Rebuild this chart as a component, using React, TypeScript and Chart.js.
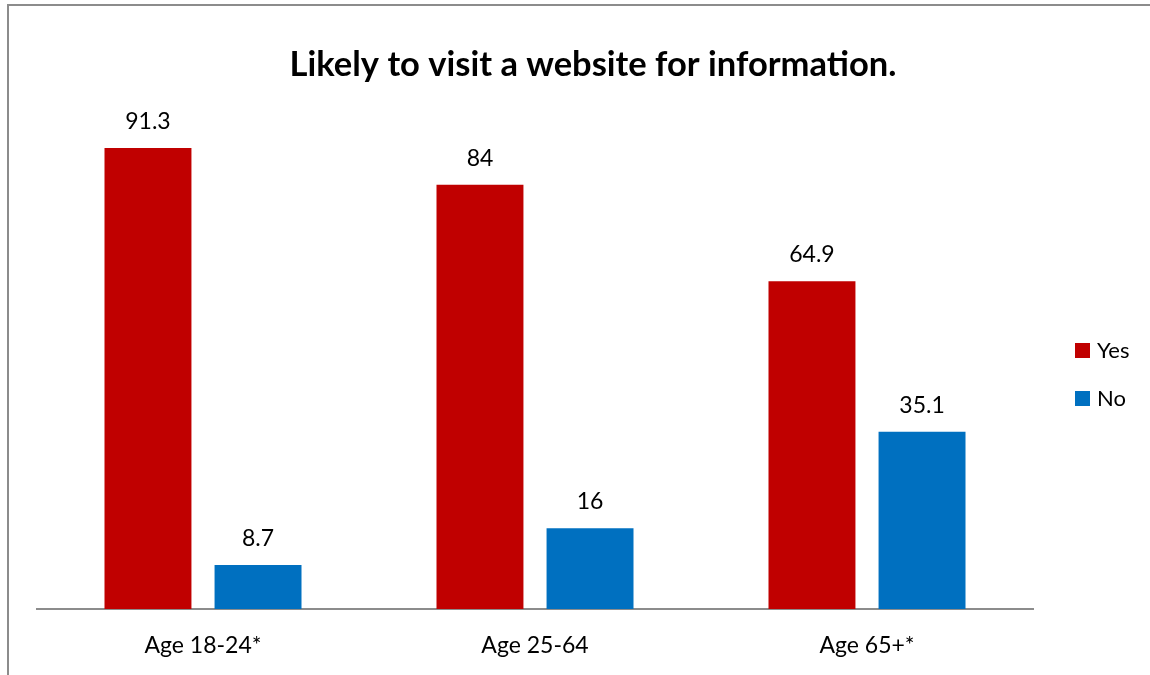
import React, { useEffect, useRef } from "react";
import { Chart, registerables } from "chart.js";

Chart.register(...registerables);

const categories = ["Age 18-24*", "Age 25-64", "Age 65+*"];
const yesValues = [91.3, 84, 64.9];
const noValues = [8.7, 16, 35.1];
const seriesNames = ["Yes", "No"];
const seriesColors = ["#C00000", "#0070C0"];
const titleText = "Likely to visit a website for information.";

const FONT = "Lato, 'Open Sans', sans-serif";

const decorPlugin = {
  id: "decor",
  beforeDraw(chart: any) {
    const ctx = chart.ctx;
    ctx.save();
    ctx.fillStyle = "#ffffff";
    ctx.fillRect(0, 0, chart.width, chart.height);
    ctx.strokeStyle = "#8c8c8c";
    ctx.lineWidth = 2;
    ctx.beginPath();
    ctx.moveTo(8, 5);
    ctx.lineTo(8, chart.height);
    ctx.moveTo(7, 5);
    ctx.lineTo(chart.width, 5);
    ctx.stroke();
    ctx.restore();
  },
  afterDraw(chart: any) {
    const ctx = chart.ctx;
    ctx.save();
    // title
    ctx.fillStyle = "#000000";
    ctx.font = `bold 34.5px ${FONT}`;
    ctx.textAlign = "center";
    ctx.textBaseline = "alphabetic";
    ctx.fillText(titleText, 593, 76);
    // data labels
    ctx.font = `23px ${FONT}`;
    chart.data.datasets.forEach((ds: any, di: number) => {
      const meta = chart.getDatasetMeta(di);
      meta.data.forEach((bar: any, i: number) => {
        ctx.fillText(String(ds.data[i]), bar.x, bar.y - 19);
      });
    });
    // legend
    ctx.textAlign = "left";
    ctx.font = `22px ${FONT}`;
    chart.data.datasets.forEach((ds: any, di: number) => {
      const top = 343 + di * 48;
      ctx.fillStyle = ds.backgroundColor;
      ctx.fillRect(1075, top, 15, 15);
      ctx.fillStyle = "#000000";
      ctx.fillText(ds.label, 1097, top + 15);
    });
    ctx.restore();
  },
};

export default function App() {
  const ref = useRef<HTMLCanvasElement>(null);
  useEffect(() => {
    if (!ref.current) return;
    const chart = new Chart(ref.current, {
      type: "bar",
      data: {
        labels: categories,
        datasets: [
          { label: seriesNames[0], data: yesValues, backgroundColor: seriesColors[0] },
          { label: seriesNames[1], data: noValues, backgroundColor: seriesColors[1] },
        ],
      },
      options: {
        responsive: false,
        animation: false,
        events: [],
        layout: { padding: { left: 37, right: 117, top: 104, bottom: 0 } },
        datasets: { bar: { categoryPercentage: 0.663, barPercentage: 0.79 } },
        plugins: {
          legend: { display: false },
          title: { display: false },
          tooltip: { enabled: false },
        },
        scales: {
          x: {
            grid: { display: false, drawTicks: false },
            border: { display: true, color: "#8c8c8c", width: 2 },
            ticks: { color: "#000000", font: { family: FONT, size: 23 }, padding: 23 },
            afterFit: (scale: any) => {
              scale.height = 66;
            },
          },
          y: { display: false, min: 0, max: 100 },
        },
      },
      plugins: [decorPlugin],
    });
    return () => chart.destroy();
  }, []);
  return (
    <div style={{ position: "absolute", left: 0, top: 0, width: 1150, height: 675 }}>
      <canvas ref={ref} width={1150} height={675} style={{ display: "block" }} />
    </div>
  );
}
